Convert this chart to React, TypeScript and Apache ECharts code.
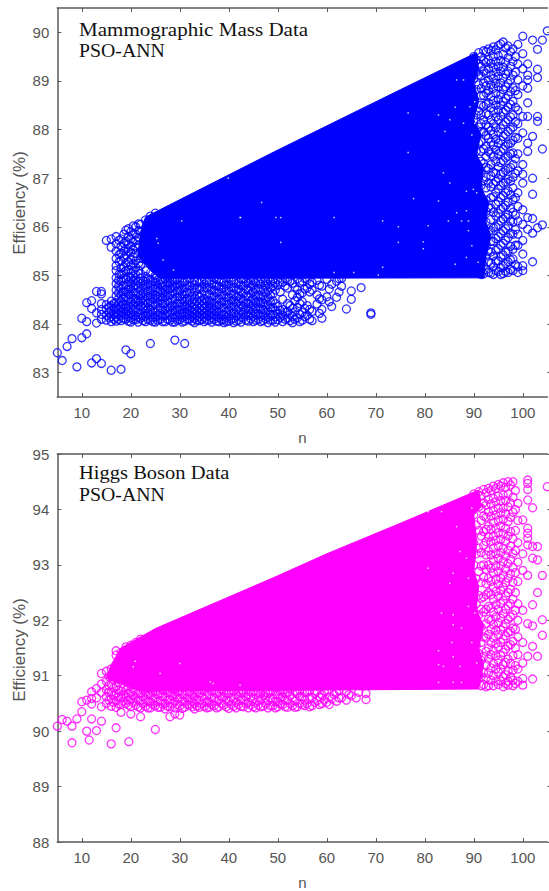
import React, { useEffect, useRef } from "react";
import * as echarts from "echarts";

const xTicks = [10, 20, 30, 40, 50, 60, 70, 80, 90, 100];
const yTicksTop = [83, 84, 85, 86, 87, 88, 89, 90];
const yTicksBottom = [88, 89, 90, 91, 92, 93, 94, 95];

type Col = [number, number[]];

// Solid mass of the clouds, read as an outline (n, efficiency)
const blueCore: [number, number][] = [
  [23, 86.2], [49.4, 87.55], [75, 88.82], [90.5, 89.58], [91, 89.25], [90, 88.95], [91, 88.6], [90, 88.2], [91.5, 87.9],
  [90.5, 87.5], [92, 87.2], [91.5, 86.8], [93, 86.5], [92.5, 86.1], [93.5, 85.8], [92.5, 85.4], [92, 84.95],
  [26, 84.94], [24, 85.1], [21.5, 85.4], [22, 85.9],
];
const pinkCore: [number, number][] = [
  [18, 91.5], [25, 91.85], [49.4, 92.78], [60, 93.2], [75, 93.75], [91, 94.35], [91.5, 94.05], [90, 93.9], [90.5, 93.5],
  [90.5, 93.3], [90, 92.9], [91, 92.6], [90.5, 92.2], [92, 91.9], [91, 91.5], [92, 91.2], [91, 90.76], [22, 90.72],
  [15, 90.95], [16, 91.2],
];

// White specks left between the circles inside the solid mass
const blueGaps: [number, number][] = [
  [86.5, 89.02], [87.9, 89.02], [76.6, 88.34], [82.8, 88.3], [86.2, 88.46], [89.2, 88.47], [90.2, 88.57], [87.9, 88.13],
  [84.1, 87.96], [85.1, 88.2], [76.6, 87.53], [89.6, 87.89], [90.2, 88.13], [83.8, 87.11], [85.1, 86.9], [77.7, 86.58],
  [82.8, 86.53], [88.5, 86.73], [89.9, 86.77], [90.6, 86.7], [88.5, 86.33], [86.5, 86.29], [87.5, 86.12], [88.9, 86.12],
  [84.8, 86.12], [80.7, 86.02], [79.7, 85.69], [79.7, 85.55], [88.9, 85.92], [89.6, 85.61], [88.5, 85.37], [86.2, 85.23],
  [90.9, 85.27], [42.4, 86.19], [49.6, 86.19], [50.6, 86.19], [61.5, 86.19], [71.4, 86.12], [74.6, 86], [50.6, 85.68],
  [74.6, 85.68], [71.4, 85.17], [61.5, 85.06], [65.5, 85.06], [70.5, 85.01], [30.4, 86.12], [25.3, 85.76], [25.6, 85.66],
  [26.6, 85.32], [28.7, 85.11], [23.6, 85.11], [46.7, 86.5], [39.9, 87.0], [42.3, 86.19],
];
const pinkGaps: [number, number][] = [
  [89.6, 94.02], [83.4, 93.96], [80.7, 93.96], [86.5, 93.69], [87.2, 93.24], [88.5, 93.12], [80.7, 92.94], [85.8, 92.85],
  [88.9, 92.76], [85.1, 92.67], [88.9, 92.25], [90.2, 92.13], [83.4, 92.13], [85.8, 92.1], [85.8, 91.92], [87.5, 91.86],
  [85.5, 91.6], [89.6, 91.6], [82.8, 91.45], [85.8, 91.34], [90.6, 91.23], [82.8, 91.2], [87.2, 91.17], [83.8, 91.17],
  [85.8, 90.88], [82.8, 90.88], [87.5, 90.88], [36.8, 90.86], [30, 91.22], [26, 91.04], [20.5, 91.16], [42.3, 90.83],
  [36.2, 90.89], [20.9, 91.26],
];

// Individual circles, by column n
const blueOutliers: Col[] = [
  [5, [83.41]], [6, [83.25]], [7, [83.54]], [8, [83.7]], [9, [83.12]], [10, [84.12, 83.72]],
  [11, [84.05, 83.8, 84.44]], [12, [83.2, 84.48, 84.32]], [13, [83.29, 84.67, 84.02, 84.23]],
  [14, [83.19, 84.67, 84.62]], [16, [83.05]], [18, [83.07]], [19, [83.47]], [20, [83.39]],
  [24, [83.6]], [29, [83.67]], [31, [83.6]], [69, [84.23, 84.2]],
];
const blueLeft: Col[] = [
  [15, [85.72]], [16, [85.75, 85.58]], [17, [85.8, 85.65, 85.5, 85.35, 85.2, 85.1]],
  [17.6, [85.72, 85.43, 85.28, 85.02]], [18, [85.75, 85.6, 85.45, 85.3, 85.15, 85.02]],
  [18.6, [85.85, 85.66, 85.5, 85.36, 85.18, 85.06]], [19, [85.93, 85.7, 85.55, 85.42, 85.25, 85.1]],
  [19.5, [85.96, 85.8, 85.64, 85.5, 85.28, 85.12, 84.97]], [20, [85.9, 85.75, 85.6, 85.47, 85.33, 85.2, 85.05]],
  [20.5, [86.02, 85.84, 85.68, 85.53, 85.38, 85.24, 85.1, 84.98]], [21, [86.0, 85.85, 85.72, 85.58, 85.45, 85.3, 85.17, 85.02]],
  [21.6, [86.06, 85.92, 85.78, 85.63, 85.25, 85.1]],
  [22, [86.05, 85.9, 85.5, 85.35, 85.2, 85.04]], [23, [86.14, 85.1, 84.98]], [24, [86.22, 85.05]], [25, [86.28, 85.0]],
];
const blueBand: Col[] = [
  [14, [84.1, 84.2, 84.3, 84.42]], [15, [84.08, 84.18, 84.3, 84.4]], [16, [84.05, 84.15, 84.26, 84.38, 84.47]],
  [17, [84.06, 84.14, 84.22, 84.33, 84.44, 84.58, 84.7, 84.83, 84.95]],
  [18, [84.07, 84.17, 84.25, 84.36, 84.47, 84.6, 84.73, 84.88]],
  [19, [84.1, 84.2, 84.32, 84.4, 84.55, 84.66, 84.78, 84.92]],
  [20, [84.04, 84.13, 84.24, 84.35, 84.46, 84.6, 84.72, 84.84, 84.95]],
  [21, [84.09, 84.18, 84.3, 84.44, 84.52, 84.65, 84.8, 84.9]],
  [22, [84.12, 84.22, 84.36, 84.47, 84.59, 84.7, 84.83, 84.94]],
  [23, [84.05, 84.16, 84.27, 84.38, 84.5, 84.63, 84.75, 84.88]],
  [24, [84.08, 84.2, 84.31, 84.45, 84.56, 84.68, 84.8, 84.92]],
  [25, [84.04, 84.14, 84.25, 84.4, 84.52, 84.6, 84.74, 84.86, 84.95]],
  [26, [84.1, 84.22, 84.34, 84.48, 84.58, 84.7, 84.82, 84.9]],
  [27, [84.05, 84.17, 84.29, 84.42, 84.55, 84.66, 84.78, 84.93]],
  [28, [84.08, 84.2, 84.33, 84.44, 84.6, 84.72, 84.84, 84.95]],
  [29, [84.04, 84.13, 84.26, 84.37, 84.5, 84.62, 84.76, 84.88]],
  [30, [84.09, 84.2, 84.3, 84.43, 84.56, 84.68, 84.8, 84.92]],
  [31, [84.06, 84.16, 84.24, 84.36, 84.47, 84.6, 84.74, 84.86]],
  [32, [84.1, 84.19, 84.28, 84.38, 84.5, 84.64, 84.78, 84.94]],
  [33, [84.03, 84.12, 84.21, 84.3, 84.41, 84.53, 84.66, 84.8, 84.9]],
  [34, [84.07, 84.15, 84.24, 84.33, 84.44, 84.56, 84.72, 84.85]],
  [35, [84.05, 84.14, 84.22, 84.32, 84.42, 84.52, 84.68, 84.82, 84.93]],
  [36, [84.08, 84.17, 84.27, 84.37, 84.48, 84.62, 84.76, 84.88]],
  [37, [84.1, 84.2, 84.31, 84.44, 84.58, 84.7, 84.83, 84.95]],
  [38, [84.05, 84.14, 84.26, 84.39, 84.52, 84.66, 84.78, 84.9]],
  [39, [84.03, 84.09, 84.2, 84.34, 84.47, 84.6, 84.74, 84.86]],
  [40, [84.06, 84.17, 84.29, 84.42, 84.55, 84.69, 84.82, 84.94]],
  [41, [84.03, 84.12, 84.24, 84.37, 84.5, 84.62, 84.76, 84.9]],
  [42, [84.08, 84.2, 84.33, 84.46, 84.58, 84.72, 84.85]],
  [43, [84.13, 84.24, 84.36, 84.49, 84.63, 84.78, 84.92]],
  [44, [84.06, 84.18, 84.3, 84.42, 84.56, 84.7, 84.84, 84.95]],
  [45, [84.05, 84.16, 84.28, 84.4, 84.52, 84.66, 84.8, 84.9]],
  [46, [84.1, 84.22, 84.35, 84.47, 84.6, 84.74, 84.88]],
  [47, [84.07, 84.19, 84.3, 84.44, 84.58, 84.72, 84.86]],
  [48, [84.03, 84.14, 84.27, 84.4, 84.55, 84.68, 84.82, 84.94]],
  [49, [84.08, 84.2, 84.34, 84.48, 84.62, 84.78, 84.9]],
  [50, [84.09, 84.22, 84.36, 84.8, 84.92]], [51, [84.05, 84.18, 84.3, 84.51, 84.86]],
  [52, [84.12, 84.26, 84.42, 84.74, 84.9]], [53, [84.03, 84.16, 84.32, 84.6, 84.84]],
  [54, [84.13, 84.34, 84.55, 84.7, 84.93]], [55, [84.08, 84.24, 84.46, 84.64, 84.88]],
  [56, [84.18, 84.38, 84.74, 84.92]], [57, [84.07, 84.26, 84.7, 84.86]], [58, [84.41, 84.6, 84.9]],
  [59, [84.12, 84.3, 84.5, 84.78]], [60, [84.56, 84.92]], [61, [84.36, 84.82]], [62, [84.55, 84.88]],
  [63, [84.78, 84.94]], [64, [84.31]], [65, [84.68, 84.51]], [67, [84.75]],
];
const blueBandMid: Col[] = [
  [15.6, [84.13, 84.24, 84.35]], [16.6, [84.1, 84.2, 84.32, 84.43]], [17.5, [84.1, 84.19, 84.28, 84.39, 84.52, 84.64, 84.77, 84.9]],
  [18.5, [84.12, 84.22, 84.31, 84.42, 84.54, 84.67, 84.8, 84.94]], [19.5, [84.06, 84.15, 84.27, 84.36, 84.49, 84.61, 84.72, 84.86]],
  [20.5, [84.09, 84.19, 84.3, 84.41, 84.53, 84.66, 84.78, 84.9]], [21.5, [84.04, 84.14, 84.25, 84.38, 84.48, 84.6, 84.74, 84.86]],
  [22.5, [84.07, 84.17, 84.31, 84.42, 84.54, 84.65, 84.78, 84.89]], [23.5, [84.1, 84.22, 84.33, 84.44, 84.57, 84.69, 84.82, 84.93]],
  [24.5, [84.05, 84.14, 84.26, 84.38, 84.51, 84.62, 84.74, 84.87]], [25.5, [84.08, 84.19, 84.31, 84.44, 84.56, 84.67, 84.8, 84.91]],
  [26.5, [84.05, 84.16, 84.28, 84.41, 84.53, 84.64, 84.76, 84.86]], [27.5, [84.1, 84.23, 84.35, 84.48, 84.6, 84.72, 84.84, 84.95]],
  [28.5, [84.04, 84.14, 84.27, 84.38, 84.52, 84.66, 84.78, 84.9]], [29.5, [84.08, 84.19, 84.31, 84.43, 84.56, 84.69, 84.82, 84.93]],
  [30.5, [84.04, 84.14, 84.25, 84.37, 84.5, 84.62, 84.74, 84.86]], [31.5, [84.1, 84.2, 84.3, 84.41, 84.53, 84.66, 84.8, 84.91]],
  [32.5, [84.06, 84.15, 84.24, 84.34, 84.45, 84.58, 84.72, 84.85]], [33.5, [84.08, 84.17, 84.26, 84.36, 84.47, 84.6, 84.73, 84.88]],
  [34.5, [84.1, 84.19, 84.28, 84.38, 84.49, 84.62, 84.76, 84.9]], [35.5, [84.08, 84.18, 84.27, 84.37, 84.47, 84.6, 84.74, 84.86]],
  [36.5, [84.04, 84.13, 84.23, 84.33, 84.43, 84.55, 84.69, 84.82]], [37.5, [84.06, 84.16, 84.26, 84.38, 84.5, 84.64, 84.78, 84.92]],
  [38.5, [84.09, 84.2, 84.32, 84.45, 84.58, 84.72, 84.86]], [39.5, [84.05, 84.14, 84.26, 84.4, 84.54, 84.67, 84.8, 84.93]],
  [40.5, [84.1, 84.22, 84.35, 84.48, 84.61, 84.75, 84.88]], [41.5, [84.06, 84.17, 84.3, 84.43, 84.56, 84.7, 84.83]],
  [42.5, [84.04, 84.14, 84.26, 84.39, 84.52, 84.66, 84.8, 84.92]], [43.5, [84.08, 84.19, 84.31, 84.43, 84.58, 84.72, 84.86]],
  [44.5, [84.11, 84.23, 84.36, 84.48, 84.62, 84.76, 84.9]], [45.5, [84.08, 84.2, 84.32, 84.45, 84.58, 84.71, 84.85]],
  [46.5, [84.05, 84.16, 84.29, 84.42, 84.54, 84.68, 84.82, 84.94]], [47.5, [84.11, 84.24, 84.37, 84.5, 84.64, 84.78, 84.9]],
  [48.5, [84.08, 84.2, 84.33, 84.46, 84.6, 84.74, 84.87]], [49.5, [84.04, 84.15, 84.28, 84.42, 84.7, 84.84]],
  [50.5, [84.14, 84.28, 84.66, 84.86]], [51.5, [84.1, 84.24, 84.78, 84.94]], [52.5, [84.07, 84.2, 84.38, 84.88]],
  [53.5, [84.1, 84.25, 84.48, 84.76]], [54.5, [84.05, 84.2, 84.42, 84.62, 84.86]], [55.5, [84.15, 84.32, 84.72, 84.94]],
  [56.5, [84.1, 84.3, 84.66, 84.82]], [58.5, [84.22, 84.52, 84.8]], [60.5, [84.46, 84.72]], [62.5, [84.66, 84.93]],
];
const blueRight: Col[] = [
  [90, [89.5, 89.05, 88.5, 88.2, 87.7, 87.4]],
  [91, [89.58, 89.35, 89.12, 88.92, 88.38, 88.05, 87.72, 87.25, 86.6, 86.2, 85.7]],
  [92, [89.62, 89.42, 89.2, 88.96, 88.7, 88.48, 88.2, 87.95, 87.6, 87.3, 86.95, 86.5, 85.95, 85.6, 85.2, 85.03]],
  [93, [89.66, 89.44, 89.25, 89.02, 88.8, 88.55, 88.3, 88.05, 87.82, 87.55, 87.2, 86.9, 86.4, 85.9, 85.5, 85.28, 85.06]],
  [94, [89.7, 89.5, 89.28, 89.05, 88.85, 88.6, 88.38, 88.12, 87.9, 87.68, 87.45, 87.12, 86.88, 86.62, 86.3, 85.98, 85.7, 85.4, 85.18, 85.02]],
  [95, [89.73, 89.52, 89.3, 89.1, 88.88, 88.62, 88.4, 88.2, 87.95, 87.72, 87.5, 87.24, 87.0, 86.78, 86.52, 86.28, 86.04, 85.8, 85.55, 85.3, 85.08]],
  [96, [89.8, 89.55, 89.28, 89.06, 88.82, 88.58, 88.36, 88.1, 87.86, 87.6, 87.36, 87.12, 86.9, 86.64, 86.4, 86.16, 85.92, 85.66, 85.42, 85.2, 85.04]],
  [97, [89.72, 89.48, 89.2, 88.95, 88.7, 88.46, 88.2, 87.96, 87.7, 87.45, 87.2, 86.98, 86.74, 86.5, 86.25, 86.02, 85.78, 85.5, 85.28, 85.06]],
  [98, [89.66, 89.4, 89.12, 88.86, 88.58, 88.3, 88.05, 87.78, 87.52, 87.28, 87.02, 86.8, 86.56, 86.3, 86.1, 85.85, 85.54, 85.34, 85.1]],
  [99, [89.75, 89.35, 89.02, 88.72, 88.4, 88.12, 87.82, 87.5, 87.15, 86.7, 86.42, 86.12, 85.85, 85.62, 85.18, 85.06]],
  [100, [89.92, 89.56, 89.25, 88.9, 88.27, 87.93, 87.28, 87.08, 86.9, 86.35, 86.05, 85.72, 85.44, 85.2, 85.1]],
  [101, [89.35, 89.12, 89.02, 88.85, 88.55, 88.27, 87.72, 87.55, 86.19, 85.95]],
  [102, [89.84, 87.86, 87.0, 86.67, 86.17, 85.87, 85.28]],
  [103, [89.65, 89.24, 89.07, 88.27, 88.17, 85.98]],
  [104, [89.84, 87.6, 86.04]],
  [105, [90.03]],
];
const blueRightMid: Col[] = [
  [90.5, [89.42, 89.18, 88.82, 88.3, 87.85, 87.55, 87.1, 86.85, 86.45, 86.0, 85.55, 85.15]],
  [91.5, [89.5, 89.3, 89.1, 88.85, 88.7, 88.5, 88.3, 88.12, 87.95, 87.75, 87.55, 87.35, 87.1, 86.85, 86.6, 86.3, 86.05, 85.75, 85.35, 85.02]],
  [92.5, [89.6, 89.38, 89.15, 88.9, 88.75, 88.52, 88.32, 88.1, 87.88, 87.66, 87.45, 87.22, 87.02, 86.8, 86.55, 86.32, 86.1, 85.85, 85.6, 85.4, 85.12]],
  [93.5, [89.62, 89.36, 89.12, 88.92, 88.68, 88.45, 88.2, 87.98, 87.74, 87.5, 87.28, 87.05, 86.82, 86.6, 86.38, 86.15, 85.92, 85.7, 85.48, 85.25, 85.05]],
  [94.5, [89.64, 89.4, 89.18, 88.95, 88.74, 88.5, 88.26, 88.04, 87.8, 87.58, 87.34, 87.1, 86.93, 86.7, 86.46, 86.22, 86.0, 85.76, 85.52, 85.3, 85.1]],
  [95.5, [89.76, 89.42, 89.2, 88.96, 88.72, 88.5, 88.28, 88.02, 87.78, 87.55, 87.32, 87.08, 86.85, 86.6, 86.36, 86.12, 85.86, 85.62, 85.38, 85.16, 85.02]],
  [96.5, [89.68, 89.38, 89.14, 88.88, 88.64, 88.4, 88.16, 87.9, 87.66, 87.42, 87.16, 86.92, 86.7, 86.44, 86.2, 85.96, 85.72, 85.48, 85.24, 85.08]],
  [97.5, [89.6, 89.3, 89.02, 88.78, 88.52, 88.26, 88.0, 87.72, 87.5, 87.22, 86.94, 86.66, 86.38, 86.12, 85.86, 85.6, 85.32, 85.12]],
  [98.5, [89.5, 89.18, 88.8, 88.46, 88.16, 87.84, 87.4, 87.1, 86.6, 86.24, 85.94, 85.62, 85.22]],
];

const pinkOutliers: Col[] = [
  [5, [90.09]], [6, [90.21]], [7, [90.18]], [8, [90.09, 89.79]], [9, [90.22]], [10, [90.35, 90.53]],
  [11, [90.0, 90.56]], [11.5, [89.84]], [12, [90.22, 90.49, 90.71, 90.59]], [13, [90.01, 90.77, 90.6]],
  [14, [90.18, 90.44, 91.04, 90.7, 90.85]], [16, [89.77]], [17, [90.06]], [19.6, [89.81]], [18, [90.34]],
  [20, [90.31]], [22, [90.26]], [25, [90.03]], [28, [90.26]], [29, [90.31]], [30, [90.29]], [33, [90.4]],
];
const pinkBand: Col[] = [
  [15, [90.5, 90.62, 90.75, 90.9, 91.08]], [16, [90.45, 90.58, 90.7, 90.84, 91.02, 91.12]],
  [17, [90.43, 90.55, 90.68, 90.8, 91.37, 91.45]], [18, [90.48, 90.6, 90.72, 91.42, 91.3]],
  [19, [90.5, 90.62, 90.74, 91.52, 91.4]], [20, [90.44, 90.58, 90.7, 91.55]],
  [21, [90.47, 90.6, 90.73, 91.6]], [22, [90.42, 90.55, 90.68, 91.66]], [23, [90.45, 90.58, 90.7]],
  [24, [90.42, 90.52, 90.65, 90.75]], [25, [90.46, 90.6, 90.72]], [26, [90.43, 90.55, 90.68]],
  [27, [90.4, 90.5, 90.62, 90.74]], [28, [90.44, 90.57, 90.7]], [29, [90.42, 90.54, 90.66, 90.76]],
  [30, [90.46, 90.6, 90.72]], [31, [90.43, 90.53, 90.65]], [32, [90.47, 90.58, 90.7]],
  [33, [90.5, 90.62, 90.74]], [34, [90.43, 90.55, 90.68]], [35, [90.45, 90.58, 90.72]],
  [36, [90.43, 90.52, 90.66]], [37, [90.46, 90.6, 90.74]], [38, [90.44, 90.56, 90.7]],
  [39, [90.47, 90.62, 90.72]], [40, [90.41, 90.54, 90.68]], [41, [90.45, 90.58, 90.74]],
  [42, [90.48, 90.62, 90.72]], [43, [90.44, 90.56, 90.7]], [44, [90.42, 90.52, 90.66]],
  [45, [90.44, 90.58, 90.73]], [46, [90.47, 90.6, 90.7]], [47, [90.45, 90.64, 90.75]],
  [48, [90.42, 90.55, 90.68]], [49, [90.46, 90.59, 90.72]], [50, [90.44, 90.53, 90.66]],
  [51, [90.48, 90.62, 90.74]], [52, [90.43, 90.56, 90.7]], [53, [90.46, 90.6]], [54, [90.44, 90.68]],
  [55, [90.48, 90.62]], [56, [90.5, 90.7]], [57, [90.46, 90.6]], [58, [90.55, 90.72]], [59, [90.5, 90.66]],
  [60, [90.52, 90.72]], [61, [90.58]], [62, [90.54, 90.7]], [63, [90.6]], [64, [90.56, 90.72]],
  [65, [90.64]], [66, [90.6]], [68, [90.57, 90.68]],
];
const pinkBandMid: Col[] = [
  [15.5, [90.56, 90.7, 90.82, 90.98]], [16.5, [90.52, 90.64, 90.78, 90.94, 91.06]], [17.5, [90.49, 90.62, 90.74, 90.88]],
  [18.5, [90.54, 90.66, 90.78]], [19.5, [90.47, 90.56, 90.68, 90.8]], [20.5, [90.52, 90.64, 90.76]],
  [21.5, [90.44, 90.56, 90.68]], [22.5, [90.5, 90.62, 90.74]], [23.5, [90.42, 90.54, 90.66]],
  [24.5, [90.48, 90.58, 90.7]], [25.5, [90.43, 90.53, 90.66]], [26.5, [90.49, 90.62, 90.74]],
  [27.5, [90.45, 90.56, 90.69]], [28.5, [90.5, 90.63, 90.75]], [29.5, [90.48, 90.6, 90.71]],
  [30.5, [90.41, 90.54, 90.67]], [31.5, [90.48, 90.6, 90.72]], [32.5, [90.44, 90.54, 90.65]],
  [33.5, [90.45, 90.57, 90.69]], [34.5, [90.5, 90.62, 90.74]], [35.5, [90.42, 90.52, 90.65]],
  [36.5, [90.48, 90.6, 90.72]], [37.5, [90.42, 90.54, 90.68]], [38.5, [90.5, 90.62, 90.75]],
  [39.5, [90.44, 90.56, 90.68]], [40.5, [90.48, 90.6, 90.73]], [41.5, [90.42, 90.52, 90.66]],
  [42.5, [90.45, 90.56, 90.69]], [43.5, [90.5, 90.62, 90.74]], [44.5, [90.47, 90.6, 90.71]],
  [45.5, [90.42, 90.52, 90.66]], [46.5, [90.44, 90.56, 90.68]], [47.5, [90.5, 90.6, 90.7]],
  [48.5, [90.46, 90.6, 90.73]], [49.5, [90.42, 90.53, 90.66]], [50.5, [90.49, 90.6, 90.72]],
  [51.5, [90.44, 90.56, 90.68]], [52.5, [90.5, 90.64, 90.76]], [53.5, [90.43, 90.54, 90.7]],
  [54.5, [90.5, 90.62, 90.74]], [55.5, [90.46, 90.56, 90.7]], [56.5, [90.44, 90.6, 90.74]],
  [57.5, [90.52, 90.68]], [58.5, [90.48, 90.62]], [59.5, [90.56, 90.72]], [60.5, [90.48, 90.62]],
  [61.5, [90.66]], [62.5, [90.6, 90.74]], [64.5, [90.66]], [66.5, [90.7]],
];
const pinkRight: Col[] = [
  [90, [94.28, 93.9, 93.4, 93.0, 92.6]],
  [91, [94.32, 94.05, 93.62, 93.3, 92.88, 92.45, 92.1, 91.75, 91.4, 91.0]],
  [92, [94.36, 94.12, 93.88, 93.6, 93.35, 93.0, 92.78, 92.42, 92.15, 91.7, 91.35, 91.05, 90.84]],
  [93, [94.38, 94.18, 93.95, 93.7, 93.5, 93.25, 93.0, 92.76, 92.5, 92.25, 92.02, 91.75, 91.5, 91.3, 91.05, 90.82]],
  [94, [94.42, 94.2, 93.98, 93.76, 93.52, 93.3, 93.08, 92.85, 92.6, 92.38, 92.15, 91.92, 91.68, 91.45, 91.22, 91.0, 90.82]],
  [95, [94.45, 94.24, 94.02, 93.8, 93.58, 93.34, 93.12, 92.88, 92.65, 92.44, 92.2, 91.96, 91.74, 91.52, 91.28, 91.06, 90.84]],
  [96, [94.48, 94.26, 94.02, 93.82, 93.56, 93.3, 93.06, 92.82, 92.6, 92.36, 92.12, 91.88, 91.66, 91.42, 91.2, 90.98, 90.8]],
  [97, [94.5, 94.28, 94.05, 93.78, 93.52, 93.26, 93.02, 92.76, 92.5, 92.26, 92.02, 91.78, 91.54, 91.3, 91.08, 90.9, 90.83]],
  [98, [94.5, 94.22, 93.95, 93.47, 93.2, 92.95, 92.68, 92.38, 92.1, 91.86, 91.62, 91.36, 91.1, 90.92, 90.82]],
  [99, [94.11, 93.8, 93.4, 93.05, 92.7, 92.3, 92.0, 91.7, 91.38, 91.12, 90.9]],
  [100, [93.81, 93.2, 92.9, 92.18, 91.6, 91.23, 90.95, 90.83]],
  [101, [94.53, 94.47, 94.36, 94.17, 93.66, 93.57, 93.48, 93.36, 92.81, 91.94, 91.35]],
  [102, [94.03, 93.33, 93.12, 92.28, 91.9, 91.53, 90.94]],
  [103, [93.33, 93.09, 92.5, 91.35]],
  [104, [92.81, 92.01, 91.73]],
  [105, [94.41]],
];
const pinkRightMid: Col[] = [
  [90.5, [94.2, 93.72, 93.2, 92.75, 92.3, 91.9, 91.55, 91.15, 90.88]],
  [91.5, [94.24, 94.02, 93.8, 93.52, 93.22, 92.98, 92.68, 92.4, 92.2, 91.88, 91.6, 91.28, 90.98, 90.82]],
  [92.5, [94.3, 94.08, 93.86, 93.64, 93.42, 93.18, 92.92, 92.66, 92.46, 92.2, 91.94, 91.68, 91.44, 91.2, 90.96, 90.8]],
  [93.5, [94.34, 94.1, 93.88, 93.64, 93.42, 93.18, 92.94, 92.7, 92.46, 92.22, 92.0, 91.84, 91.6, 91.38, 91.14, 90.92]],
  [94.5, [94.38, 94.14, 93.9, 93.66, 93.44, 93.2, 92.98, 92.74, 92.52, 92.28, 92.06, 91.82, 91.58, 91.36, 91.12, 90.9]],
  [95.5, [94.42, 94.16, 93.94, 93.7, 93.46, 93.22, 92.98, 92.76, 92.54, 92.3, 92.04, 91.82, 91.6, 91.36, 91.12, 90.9]],
  [96.5, [94.4, 94.16, 93.92, 93.66, 93.42, 93.16, 92.92, 92.68, 92.44, 92.2, 91.94, 91.72, 91.48, 91.24, 91.02, 90.86]],
  [97.5, [94.44, 94.12, 93.86, 93.6, 93.34, 93.1, 92.84, 92.56, 92.3, 92.06, 91.8, 91.56, 91.22, 90.98]],
  [98.5, [94.34, 94.0, 93.62, 93.26, 92.86, 92.5, 92.18, 91.84, 91.5, 91.18, 90.86]],
];

const BLUE = "#0000ff";
const PINK = "#ff00ff";
const AXIS = "#5a5a5a";
const LABEL = "#555555";
const SANS = "'Liberation Sans'";

function pts(...groups: Col[][]): [number, number][] {
  const out: [number, number][] = [];
  groups.forEach((g) => g.forEach(([n, vs]) => vs.forEach((v) => out.push([n, v]))));
  return out;
}

function coreSeries(core: [number, number][], color: string, idx: number) {
  return {
    type: "custom",
    xAxisIndex: idx * 2,
    yAxisIndex: idx * 2,
    data: core,
    clip: false,
    encode: { x: 0, y: 1 },
    silent: true,
    renderItem: (params: any, api: any) => {
      if (params.dataIndex !== 0) return null;
      return {
        type: "polygon",
        shape: { points: core.map((p) => api.coord(p)) },
        style: { fill: color, stroke: color, lineWidth: 1 },
      };
    },
  };
}

function ringSeries(data: [number, number][], color: string, idx: number) {
  return {
    type: "scatter",
    xAxisIndex: idx * 2,
    yAxisIndex: idx * 2,
    data,
    clip: false,
    symbol: "circle",
    symbolSize: 8,
    silent: true,
    itemStyle: { color: "transparent", borderColor: color, borderWidth: 1.3 },
  };
}

function gapSeries(data: [number, number][], idx: number) {
  return {
    type: "scatter",
    xAxisIndex: idx * 2,
    yAxisIndex: idx * 2,
    data,
    symbol: "rect",
    symbolSize: 1.5,
    silent: true,
    itemStyle: { color: "#ffffff" },
  };
}

function xAxes(gridIndex: number) {
  const base = {
    type: "value",
    gridIndex,
    min: 5,
    max: 105,
    splitLine: { show: false },
    axisLine: { show: true, lineStyle: { color: AXIS, width: 1.5 } },
    axisTick: { show: true, inside: true, length: 4, customValues: xTicks, lineStyle: { color: AXIS, width: 1 } },
  };
  return [
    {
      ...base,
      position: "bottom",
      name: "n",
      nameLocation: "middle",
      nameGap: 33,
      nameTextStyle: { fontFamily: SANS, fontSize: 15, color: LABEL },
      axisLabel: { customValues: xTicks, margin: 8, fontFamily: SANS, fontSize: 15, color: LABEL },
    },
    { ...base, position: "top", axisLabel: { show: false } },
  ];
}

function yAxes(gridIndex: number, min: number, max: number, ticks: number[]) {
  const base = { type: "value", gridIndex, min, max, splitLine: { show: false } };
  return [
    {
      ...base,
      position: "left",
      axisLine: { show: true, lineStyle: { color: AXIS, width: 1.5 } },
      axisTick: { show: true, inside: true, length: 4, customValues: ticks, lineStyle: { color: AXIS, width: 1 } },
      axisLabel: { customValues: ticks, margin: 8, fontFamily: SANS, fontSize: 15, color: LABEL },
    },
    {
      ...base,
      position: "right",
      axisLine: { show: false },
      axisTick: { show: true, inside: false, length: 3, customValues: ticks, lineStyle: { color: AXIS, width: 1 } },
      axisLabel: { show: false },
    },
  ];
}

function serif(text: string, x: number, y: number, scaleX: number) {
  return {
    type: "text",
    x,
    y,
    scaleX,
    style: { text, fill: "#111111", font: "18px 'Liberation Serif'", textVerticalAlign: "middle" },
  };
}

function yName(y: number) {
  return {
    type: "text",
    x: 19,
    y,
    rotation: Math.PI / 2,
    style: {
      text: "Efficiency (%)",
      fill: LABEL,
      font: "17px 'Liberation Sans'",
      textAlign: "center",
      textVerticalAlign: "middle",
    },
  };
}

export default function App() {
  const ref = useRef<HTMLDivElement>(null);
  useEffect(() => {
    document.body.style.margin = "0";
    const chart = echarts.init(ref.current!, undefined, { renderer: "svg" });
    chart.setOption({
      animation: false,
      backgroundColor: "#ffffff",
      grid: [
        { left: 57.3, top: 8, width: 490, height: 389 },
        { left: 57.3, top: 454, width: 490, height: 389 },
      ],
      xAxis: [...xAxes(0), ...xAxes(1)],
      yAxis: [...yAxes(0, 82.5, 90.5, yTicksTop), ...yAxes(1, 88, 95, yTicksBottom)],
      series: [
        coreSeries(blueCore, BLUE, 0),
        ringSeries(pts(blueOutliers, blueLeft, blueBand, blueBandMid, blueRight, blueRightMid), BLUE, 0),
        gapSeries(blueGaps, 0),
        coreSeries(pinkCore, PINK, 1),
        ringSeries(pts(pinkOutliers, pinkBand, pinkBandMid, pinkRight, pinkRightMid), PINK, 1),
        gapSeries(pinkGaps, 1),
      ],
      graphic: [
        serif("Mammographic Mass Data", 79, 30, 1.17),
        serif("PSO-ANN", 79, 51, 1.1),
        serif("Higgs Boson Data", 79, 473, 1.14),
        serif("PSO-ANN", 79, 495, 1.1),
        yName(203),
        yName(650),
      ],
    });
    return () => chart.dispose();
  }, []);
  return <div ref={ref} style={{ width: 549, height: 891 }} />;
}
